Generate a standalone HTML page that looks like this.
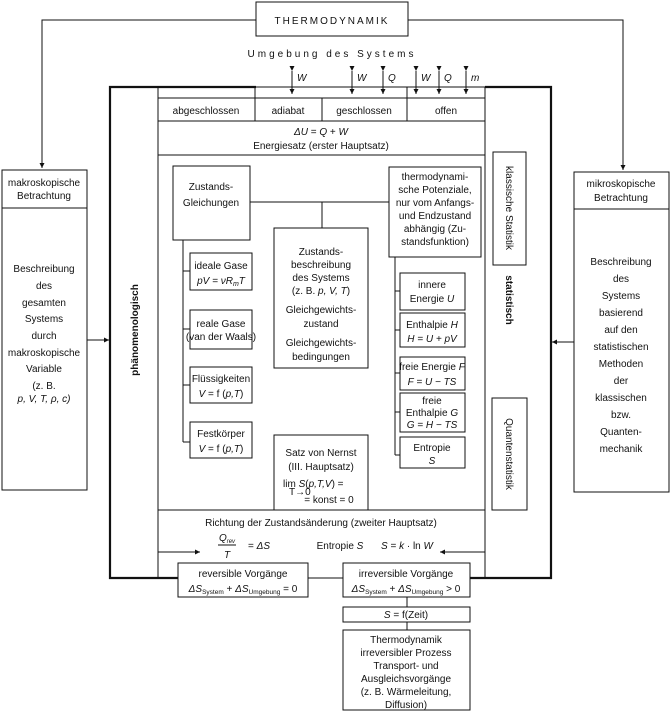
<!DOCTYPE html>
<html><head><meta charset="utf-8"><style>
html,body{margin:0;padding:0;background:#fff}
svg{display:block}
text{font-family:"Liberation Sans",sans-serif;font-size:10px;fill:#111}
</style></head><body>
<svg width="671" height="712" viewBox="0 0 671 712" xmlns="http://www.w3.org/2000/svg">
<defs>
<marker id="a" viewBox="0 0 6 6" refX="6" refY="3" markerWidth="5" markerHeight="5" orient="auto"><path d="M0,0L6,3L0,6z" fill="#111"/></marker>
<marker id="b" viewBox="0 0 6 6" refX="0" refY="3" markerWidth="5" markerHeight="5" orient="auto"><path d="M6,0L0,3L6,6z" fill="#111"/></marker>
</defs>
<g stroke="#111" fill="none" stroke-width="1">
<!-- title and top connectors -->
<rect x="256" y="2" width="152" height="34"/>
<polyline points="256,20 42,20 42,168" marker-end="url(#a)"/>
<polyline points="408,20 623,20 623,170" marker-end="url(#a)"/>
<!-- side boxes -->
<rect x="2" y="170" width="85" height="320"/><line x1="2" y1="208" x2="87" y2="208"/>
<rect x="574" y="172" width="95" height="320"/><line x1="574" y1="209" x2="669" y2="209"/>
<line x1="87" y1="340" x2="109" y2="340" marker-end="url(#a)"/>
<line x1="574" y1="342" x2="552" y2="342" marker-end="url(#a)"/>
<!-- outer thick -->
<polyline points="256,87 110,87 110,578 178,578" stroke-width="2.2"/>
<polyline points="485,87 551,87 551,578 470,578" stroke-width="2.2"/>
<line x1="256" y1="87" x2="485" y2="87"/>
<line x1="308" y1="578" x2="343" y2="578"/>
<!-- inner grid -->
<line x1="158" y1="87" x2="158" y2="578"/>
<line x1="485" y1="87" x2="485" y2="578"/>
<line x1="158" y1="98" x2="485" y2="98"/>
<line x1="158" y1="121" x2="485" y2="121"/>
<line x1="158" y1="155" x2="485" y2="155"/>
<line x1="158" y1="510" x2="485" y2="510"/>
<line x1="255" y1="87" x2="255" y2="121"/>
<line x1="322" y1="98" x2="322" y2="121"/>
<line x1="407" y1="87" x2="407" y2="121"/>
<!-- double arrows -->
<g marker-start="url(#b)" marker-end="url(#a)" transform="translate(0,0)">
<line x1="292" y1="71" x2="292" y2="94" marker-start="url(#a)"/>
<line x1="352" y1="71" x2="352" y2="94" marker-start="url(#a)"/>
<line x1="383" y1="71" x2="383" y2="94" marker-start="url(#a)"/>
<line x1="416" y1="71" x2="416" y2="94" marker-start="url(#a)"/>
<line x1="439" y1="71" x2="439" y2="94" marker-start="url(#a)"/>
<line x1="466" y1="71" x2="466" y2="94" marker-start="url(#a)"/>
</g>
<!-- left-side tree -->
<rect x="173" y="166" width="77" height="74"/>
<line x1="250" y1="202" x2="389" y2="202"/>
<line x1="322" y1="202" x2="322" y2="228"/>
<rect x="274" y="228" width="94" height="140"/>
<rect x="389" y="167" width="92" height="90"/>
<line x1="183" y1="240" x2="183" y2="442"/>
<rect x="190" y="253" width="62" height="37"/><line x1="183" y1="271" x2="190" y2="271"/>
<rect x="190" y="310" width="62" height="39"/><line x1="183" y1="329" x2="190" y2="329"/>
<rect x="190" y="367" width="62" height="36"/><line x1="183" y1="385" x2="190" y2="385"/>
<rect x="190" y="422" width="62" height="36"/><line x1="183" y1="442" x2="190" y2="442"/>
<line x1="395" y1="257" x2="395" y2="455"/>
<rect x="400" y="273" width="65" height="37"/><line x1="395" y1="291" x2="400" y2="291"/>
<rect x="400" y="313" width="65" height="34"/><line x1="395" y1="330" x2="400" y2="330"/>
<rect x="400" y="357" width="65" height="33"/><line x1="395" y1="373" x2="400" y2="373"/>
<rect x="400" y="393" width="65" height="39"/><line x1="395" y1="412" x2="400" y2="412"/>
<rect x="400" y="437" width="65" height="31"/><line x1="395" y1="455" x2="400" y2="455"/>
<rect x="274" y="435" width="94" height="75"/>
<!-- right column boxes -->
<rect x="493" y="152" width="33" height="113"/>
<rect x="492" y="398" width="35" height="112"/>
<!-- bottom -->
<line x1="158" y1="552" x2="200" y2="552" marker-end="url(#a)"/>
<line x1="485" y1="552" x2="440" y2="552" marker-end="url(#a)"/>
<line x1="218" y1="545" x2="236" y2="545"/>
<rect x="178" y="563" width="130" height="34" fill="#fff"/>
<rect x="343" y="563" width="127" height="34" fill="#fff"/>
<line x1="407" y1="597" x2="407" y2="607"/>
<rect x="343" y="607" width="127" height="15"/>
<line x1="407" y1="622" x2="407" y2="630"/>
<rect x="343" y="630" width="127" height="80"/>
</g>
<g text-anchor="middle">
<text x="332" y="24" font-size="11" letter-spacing="2">THERMODYNAMIK</text>
<text x="332" y="57" font-size="11" letter-spacing="3">Umgebung des Systems</text>
<g font-style="italic" text-anchor="start">
<text x="297" y="81">W</text><text x="357" y="81">W</text><text x="388" y="81">Q</text>
<text x="421" y="81">W</text><text x="444" y="81">Q</text><text x="471" y="81">m</text>
</g>
<text x="206" y="114">abgeschlossen</text><text x="288" y="114">adiabat</text>
<text x="364" y="114">geschlossen</text><text x="446" y="114">offen</text>
<text x="321" y="135"><tspan font-style="italic">ΔU</tspan> = <tspan font-style="italic">Q</tspan> + <tspan font-style="italic">W</tspan></text>
<text x="321" y="149">Energiesatz (erster Hauptsatz)</text>
<text x="44" y="186" font-size="9">makroskopische</text><text x="44" y="199" font-size="9">Betrachtung</text>
<text x="44" y="272" font-size="9.5">Beschreibung</text><text x="44" y="289" font-size="9.5">des</text>
<text x="44" y="306" font-size="9.5">gesamten</text><text x="44" y="322" font-size="9.5">Systems</text>
<text x="44" y="339" font-size="9.5">durch</text><text x="44" y="356" font-size="9.5">makroskopische</text>
<text x="44" y="372" font-size="9.5">Variable</text><text x="44" y="389" font-size="9.5">(z. B.</text>
<text x="44" y="402" font-size="9.5" font-style="italic">p, V, T, ρ, c)</text>
<text x="621" y="187" font-size="9.5">mikroskopische</text><text x="621" y="201" font-size="9.5">Betrachtung</text>
<g font-size="9.5">
<text x="621" y="265">Beschreibung</text><text x="621" y="282">des</text><text x="621" y="299">Systems</text>
<text x="621" y="316">basierend</text><text x="621" y="333">auf den</text><text x="621" y="350">statistischen</text>
<text x="621" y="367">Methoden</text><text x="621" y="384">der</text><text x="621" y="401">klassischen</text>
<text x="621" y="418">bzw.</text><text x="621" y="435">Quanten-</text><text x="621" y="452">mechanik</text>
</g>
<text transform="translate(138,330) rotate(-90)" font-weight="bold">phänomenologisch</text>
<text transform="translate(506,300) rotate(90)" font-weight="bold">statistisch</text>
<text transform="translate(506,208) rotate(90)">klassische Statistik</text>
<text transform="translate(506,454) rotate(90)">Quantenstatistik</text>
<text x="211" y="190">Zustands-</text><text x="211" y="206">Gleichungen</text>
<g font-size="8.5"><text x="435" y="180">thermodynami-</text><text x="435" y="193">sche Potenziale,</text>
<text x="435" y="206">nur vom Anfangs-</text><text x="435" y="219">und Endzustand</text>
<text x="435" y="232">abhängig (Zu-</text><text x="435" y="245">standsfunktion)</text></g>
<text x="321" y="255">Zustands-</text><text x="321" y="268">beschreibung</text><text x="321" y="281">des Systems</text>
<text x="321" y="294" font-size="9">(z. B. <tspan font-style="italic">p, V, T</tspan>)</text>
<text x="321" y="313">Gleichgewichts-</text><text x="321" y="327">zustand</text>
<text x="321" y="346">Gleichgewichts-</text><text x="321" y="360">bedingungen</text>
<text x="221" y="269">ideale Gase</text><text x="221" y="284" font-style="italic">pV = νR<tspan font-size="7" dy="2">m</tspan><tspan dy="-2">T</tspan></text>
<text x="221" y="327">reale Gase</text><text x="221" y="340" font-size="6.5">(van der Waals)</text>
<text x="221" y="382" font-size="9">Flüssigkeiten</text><text x="221" y="397"><tspan font-style="italic">V</tspan> = f (<tspan font-style="italic">p,T</tspan>)</text>
<text x="221" y="437">Festkörper</text><text x="221" y="452"><tspan font-style="italic">V</tspan> = f (<tspan font-style="italic">p,T</tspan>)</text>
<g font-size="9.5">
<text x="432" y="288">innere</text><text x="432" y="302">Energie <tspan font-style="italic">U</tspan></text>
<text x="432" y="328">Enthalpie <tspan font-style="italic">H</tspan></text><text x="432" y="342" font-style="italic">H = U + pV</text>
<text x="432" y="370" font-size="8.5">freie Energie <tspan font-style="italic">F</tspan></text><text x="432" y="385" font-style="italic">F = U − TS</text>
<text x="432" y="404">freie</text><text x="432" y="416">Enthalpie <tspan font-style="italic">G</tspan></text><text x="432" y="428" font-style="italic">G = H − TS</text>
<text x="432" y="451">Entropie</text><text x="432" y="464" font-style="italic">S</text>
</g>
<text x="321" y="456">Satz von Nernst</text><text x="321" y="470">(III. Hauptsatz)</text>
<text x="283" y="487" text-anchor="start">lim <tspan font-style="italic">S</tspan>(<tspan font-style="italic">p,T,V</tspan>) =</text>
<text x="289" y="495" font-size="6" text-anchor="start">T→0</text>
<text x="329" y="503">= konst = 0</text>
<text x="321" y="526">Richtung der Zustandsänderung (zweiter Hauptsatz)</text>
<text x="227" y="541" font-style="italic" font-size="9.5">Q<tspan font-size="6" dy="2">rev</tspan></text>
<text x="227" y="558" font-style="italic">T</text>
<text x="259" y="549">= <tspan font-style="italic">ΔS</tspan></text>
<text x="340" y="549">Entropie <tspan font-style="italic">S</tspan></text>
<text x="407" y="549"><tspan font-style="italic">S</tspan> = <tspan font-style="italic">k</tspan> · ln <tspan font-style="italic">W</tspan></text>
<text x="243" y="577">reversible Vorgänge</text>
<text x="243" y="592"><tspan font-style="italic">ΔS</tspan><tspan font-size="6.5" dy="2">System</tspan><tspan dy="-2"> + </tspan><tspan font-style="italic">ΔS</tspan><tspan font-size="6.5" dy="2">Umgebung</tspan><tspan dy="-2"> = 0</tspan></text>
<text x="406" y="577">irreversible Vorgänge</text>
<text x="406" y="592"><tspan font-style="italic">ΔS</tspan><tspan font-size="6.5" dy="2">System</tspan><tspan dy="-2"> + </tspan><tspan font-style="italic">ΔS</tspan><tspan font-size="6.5" dy="2">Umgebung</tspan><tspan dy="-2"> &gt; 0</tspan></text>
<text x="406" y="618"><tspan font-style="italic">S</tspan> = f(Zeit)</text>
<text x="406" y="643">Thermodynamik</text><text x="406" y="656">irreversibler Prozess</text>
<text x="406" y="669">Transport- und</text><text x="406" y="682">Ausgleichsvorgänge</text>
<text x="406" y="695">(z. B. Wärmeleitung,</text><text x="406" y="708">Diffusion)</text>
</g>
</svg>
</body></html>
